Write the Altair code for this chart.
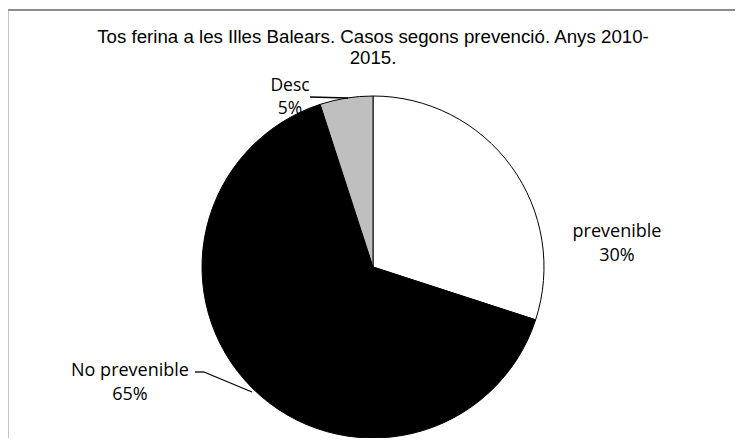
import altair as alt
import pandas as pd

# ---- data ----
categories = ["prevenible", "No prevenible", "Desc"]
values = [30, 65, 5]
order = [1, 2, 3]
colors = ["#ffffff", "#000000", "#bfbfbf"]
title_lines = ["Tos ferina a les Illes Balears. Casos segons prevenció. Anys 2010-", "2015."]

df = pd.DataFrame({"cat": categories, "value": values, "ord": order})

W, H = 725, 428
CX, CY, R = 363, 257, 171
LABEL_FONT = "Open Sans"
LABEL_SIZE = 18

base = alt.Chart(df).transform_joinaggregate(
    total="sum(value)"
).transform_calculate(
    label="datum.cat + '\\n' + round(datum.value / datum.total * 100) + '%'",
)

pie = base.mark_arc(radius=R, stroke="#000000", strokeWidth=1).encode(
    theta=alt.Theta("value:Q", stack=True),
    order=alt.Order("ord:Q"),
    color=alt.Color("cat:N", scale=alt.Scale(domain=categories, range=colors), legend=None),
    x=alt.value(CX),
    y=alt.value(CY),
)

def label(cat, x, y, size=LABEL_SIZE, lh=24):
    return base.transform_filter(alt.datum.cat == cat).mark_text(
        font=LABEL_FONT, fontSize=size, color="#000000", align="center",
        baseline="middle", lineBreak="\n", lineHeight=lh,
    ).encode(text="label:N", x=alt.value(x), y=alt.value(y))

lab_prev = label("prevenible", 607, 222)
lab_no = label("No prevenible", 120, 361)
lab_desc = label("Desc", 280, 76, size=17.5, lh=23)

one = alt.Data(values=[{"k": 1}])

def rule(x, x2, y, y2, color="#000000", w=1.3):
    return alt.Chart(one).mark_rule(color=color, strokeWidth=w).encode(
        x=alt.value(x), x2=alt.value(x2), y=alt.value(y), y2=alt.value(y2)
    )

leaders = [
    rule(300, 338, 87, 88),
    rule(185, 194, 362, 362),
    rule(194, 242, 362, 382),
]

border = [
    rule(-3.5, W, 0, 0, color="#8c8c8c", w=2),
    rule(-2.5, -2.5, -0.5, H, color="#8c8c8c", w=2),
]

title = alt.Chart(one).mark_text(
    text=title_lines, font="Liberation Sans", fontSize=18.7, color="#000000",
    align="center", baseline="middle", lineHeight=21,
).encode(x=alt.value(363), y=alt.value(27))

chart = alt.layer(
    *border, pie, *leaders, lab_prev, lab_no, lab_desc, title
).properties(
    width=W, height=H,
    autosize=alt.AutoSizeParams(type="none"),
    padding={"left": 2, "top": 2, "right": 0, "bottom": 0},
).configure_view(stroke=None)

chart.save("out.html", embed_options={"renderer": "svg", "actions": False})
